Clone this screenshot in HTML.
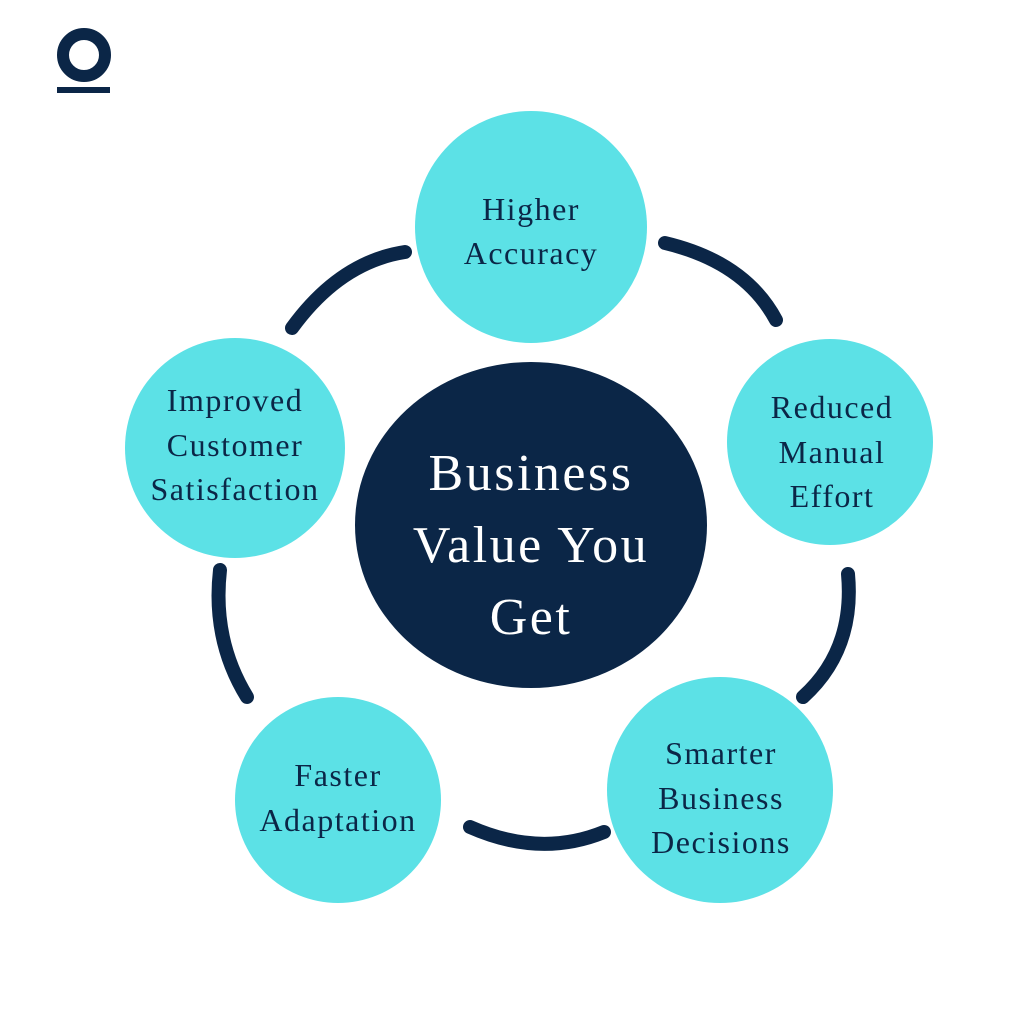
<!DOCTYPE html>
<html><head><style>
body{margin:0;background:#fff;}
svg text{font-family:"Liberation Serif",serif;}
</style></head><body>
<svg width="1024" height="1024" viewBox="0 0 1024 1024" xmlns="http://www.w3.org/2000/svg">
<rect width="1024" height="1024" fill="#fff"/>
<circle cx="84" cy="55" r="21" fill="none" stroke="#0b2647" stroke-width="12"/>
<rect x="57" y="87" width="53" height="6" fill="#0b2647"/>
<g fill="none" stroke="#0b2647" stroke-width="14" stroke-linecap="round">
<path d="M405 252 Q340 262 292 328"/>
<path d="M665 243 Q745 262 776 320"/>
<path d="M848 574 Q855 650 803 697"/>
<path d="M604 832 Q540 858 470 827"/>
<path d="M220 570 Q212 640 247 697"/>
</g>
<ellipse cx="531" cy="525" rx="176" ry="163" fill="#0b2647"/>
<g fill="#5ce1e6">
<circle cx="531" cy="227" r="116"/>
<circle cx="830" cy="442" r="103"/>
<circle cx="720" cy="790" r="113"/>
<circle cx="338" cy="800" r="103"/>
<circle cx="235" cy="448" r="110"/>
</g>
<g fill="#0b2647" font-size="32" text-anchor="middle" letter-spacing="1.5">
<text x="531" y="220">Higher</text>
<text x="531" y="264">Accuracy</text>
<text x="832" y="418">Reduced</text>
<text x="832" y="463">Manual</text>
<text x="832" y="507">Effort</text>
<text x="721" y="764">Smarter</text>
<text x="721" y="809">Business</text>
<text x="721" y="853">Decisions</text>
<text x="338" y="786">Faster</text>
<text x="338" y="831">Adaptation</text>
<text x="235" y="411">Improved</text>
<text x="235" y="456">Customer</text>
<text x="235" y="500">Satisfaction</text>
</g>
<g fill="#fff" font-size="52" text-anchor="middle" letter-spacing="2.5">
<text x="531" y="490">Business</text>
<text x="531" y="562">Value You</text>
<text x="531" y="634">Get</text>
</g>
</svg>
</body></html>
